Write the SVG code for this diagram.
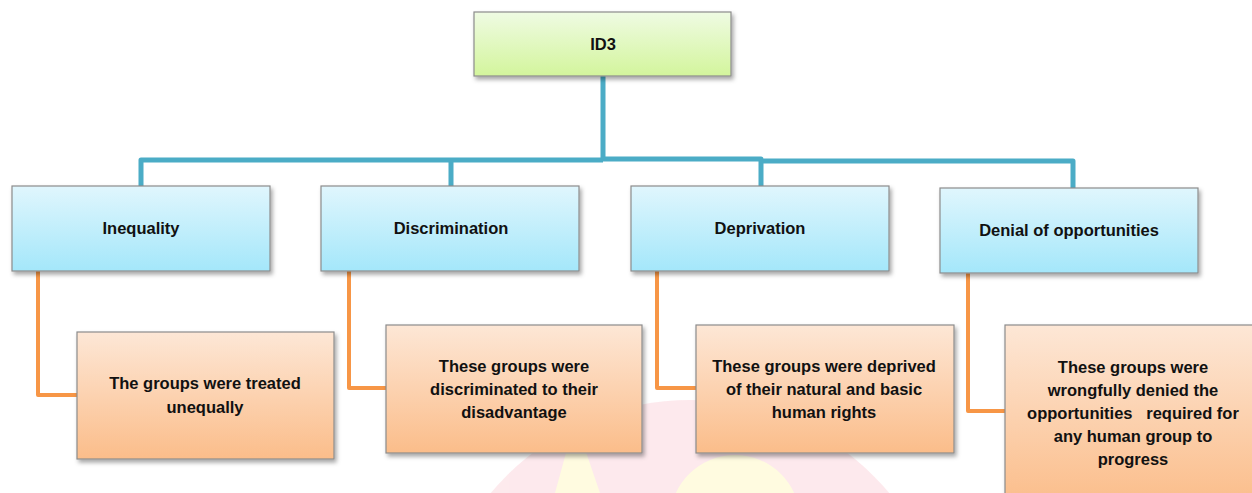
<svg xmlns="http://www.w3.org/2000/svg" width="1252" height="493" viewBox="0 0 1252 493">
<defs>
<linearGradient id="gGreen" x1="0" y1="0" x2="0" y2="1"><stop offset="0" stop-color="#effbe3"/><stop offset="1" stop-color="#d3f59c"/></linearGradient>
<linearGradient id="gBlue" x1="0" y1="0" x2="0" y2="1"><stop offset="0" stop-color="#e0f6fd"/><stop offset="1" stop-color="#a4e7fa"/></linearGradient>
<linearGradient id="gOrange" x1="0" y1="0" x2="0" y2="1"><stop offset="0" stop-color="#fde7d6"/><stop offset="1" stop-color="#fbbd8a"/></linearGradient>
<filter id="sh" x="-10%" y="-10%" width="125%" height="130%"><feDropShadow dx="2" dy="3" stdDeviation="2" flood-color="#000" flood-opacity="0.35"/></filter>
<style>
.box{stroke:#8c8c8c;stroke-width:1.2;filter:url(#sh)}
.l1{fill:url(#gGreen)}
.l2{fill:url(#gBlue)}
.l3{fill:url(#gOrange)}
.t{font-family:"Liberation Sans",Arial,sans-serif;font-size:16.5px;font-weight:bold;fill:#111;text-anchor:middle}
.bl{fill:none;stroke:#4bacc6;stroke-width:5;stroke-linejoin:round}
.or{fill:none;stroke:#f79646;stroke-width:4;stroke-linejoin:round}
</style>
</defs>
<rect width="1252" height="493" fill="#fff"/>
<g id="watermark" opacity="0.3">
<circle cx="690" cy="660" r="260" fill="#f9b8c4"/>
<circle cx="735" cy="520" r="65" fill="#fff59a"/>
<polygon points="575,420 555,493 600,493" fill="#fff59a"/>
</g>
<g id="connectors">
<path class="bl" d="M603 76 V159 M141 186 V160 H603 M451 186 V160 M603 159 H761 V186 M761 161 H1073 V188"/>
<path class="or" d="M38 271 V395 H77"/>
<path class="or" d="M349 271 V388 H386"/>
<path class="or" d="M657 271 V388 H696"/>
<path class="or" d="M968 273 V411 H1005"/>
</g>
<g id="root"><rect class="box l1" x="474" y="12" width="257" height="64"/><text class="t" x="603" y="50">ID3</text></g>
<g id="inequality"><rect class="box l2" x="12" y="186" width="258" height="85"/><text class="t" x="141" y="234">Inequality</text></g>
<g id="discrimination"><rect class="box l2" x="321" y="186" width="258" height="85"/><text class="t" x="451" y="234">Discrimination</text></g>
<g id="deprivation"><rect class="box l2" x="631" y="186" width="258" height="85"/><text class="t" x="760" y="234">Deprivation</text></g>
<g id="denial"><rect class="box l2" x="940" y="188" width="258" height="85"/><text class="t" x="1069" y="236">Denial of opportunities</text></g>
<g id="desc-inequality"><rect class="box l3" x="77" y="332" width="257" height="127"/><text class="t" x="205" y="389">The groups were treated</text><text class="t" x="205" y="413">unequally</text></g>
<g id="desc-discrimination"><rect class="box l3" x="386" y="325" width="256" height="128"/><text class="t" x="514" y="372">These groups were</text><text class="t" x="514" y="395">discriminated to their</text><text class="t" x="514" y="418">disadvantage</text></g>
<g id="desc-deprivation"><rect class="box l3" x="696" y="325" width="258" height="128"/><text class="t" x="824" y="372">These groups were deprived</text><text class="t" x="824" y="395">of their natural and basic</text><text class="t" x="824" y="418">human rights</text></g>
<g id="desc-denial"><rect class="box l3" x="1005" y="325" width="260" height="180"/><text class="t" x="1133" y="373">These groups were</text><text class="t" x="1133" y="396">wrongfully denied the</text><text class="t" x="1133" y="419" xml:space="preserve">opportunities   required for</text><text class="t" x="1133" y="442">any human group to</text><text class="t" x="1133" y="465">progress</text></g>
</svg>
